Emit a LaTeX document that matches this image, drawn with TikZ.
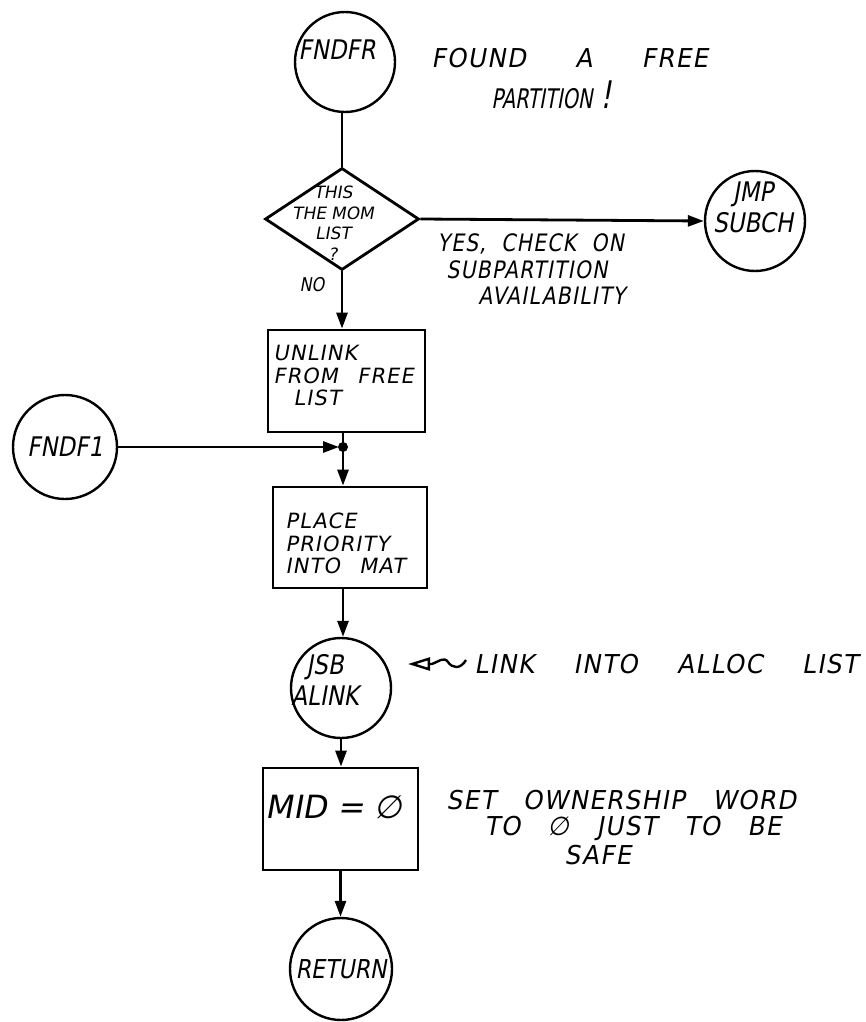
\documentclass[tikz,border=0pt]{standalone}
\usepackage{fontspec}
\newfontfamily\handC[FakeSlant=0.18,FakeStretch=0.85]{DejaVu Sans}
\newfontfamily\handN[FakeSlant=0.18,FakeStretch=0.72]{DejaVu Sans}
\newfontfamily\handD[FakeSlant=0.18]{DejaVu Sans}
\newfontfamily\handB[FakeSlant=0.18,LetterSpace=5,WordSpace=2.5]{DejaVu Sans}
\newfontfamily\handW[FakeSlant=0.18,FakeStretch=0.95,LetterSpace=5,WordSpace=3]{DejaVu Sans}
\newfontfamily\handS[FakeSlant=0.18,FakeStretch=0.85,LetterSpace=5,WordSpace=2]{DejaVu Sans}
\usetikzlibrary{shapes.geometric,arrows.meta}
\begin{document}
\begin{tikzpicture}[x=1pt,y=-1pt,
  line width=2.8pt,
  every node/.style={inner sep=0pt},
  circ/.style={draw, circle, line width=2.4pt, minimum size=#1},
  box/.style={draw, rectangle, line width=2.8pt},
  ctext/.style={font=\handC\fontsize{27}{31}\selectfont, align=center},
  dtext/.style={font=\handD\fontsize{17}{20.5}\selectfont, align=center},
  btext/.style={font=\handB\fontsize{21}{22.5}\selectfont, align=left, anchor=north west},
  cmt/.style={font=\handW\fontsize{26}{28}\selectfont, anchor=west},
  cmts/.style={font=\handS\fontsize{24}{26}\selectfont, anchor=west},
  arr/.style={-{Triangle[length=16pt,width=11pt]}},
]
\useasboundingbox (0,0) rectangle (865,1022);

% FNDFR entry
\node[circ=100pt] (fndfr) at (345,62) {};
\node[ctext] (fndfrT) at (337,50) {FNDFR};
\node[cmt] (found) at (430,58) {FOUND\hspace{22pt} A\hspace{22pt} FREE};
\node[font=\handN\fontsize{27}{30}\selectfont, anchor=west] (partition) at (490,95) {PARTITION\hspace{8pt}{\fontsize{38}{38}\selectfont !}};

% decision
\node[draw, diamond, minimum width=154pt, minimum height=102pt, line width=2.8pt] (dec) at (342,219) {};
\node[dtext] (decT) at (333,223) {THIS\\THE\hspace{5pt}MOM\\LIST\\?};

% JMP SUBCH
\node[circ=100pt] (jmp) at (755,221) {};
\node[ctext] (jmpT) at (753,207) {JMP\\SUBCH};

\node[cmts] (yes) at (436,244) {YES, CHECK ON};
\node[cmts] (subp) at (445,270) {SUBPARTITION};
\node[cmts] (avail) at (477,296) {AVAILABILITY};
\node[font=\handC\fontsize{19}{20}\selectfont] (no) at (312,285) {NO};

% UNLINK box
\node[box, minimum width=157pt, minimum height=102pt] (unlink) at (346.5,381) {};
\node[btext] (unlinkT) at (272,344) {UNLINK\\FROM FREE\\\hspace{20pt}LIST};

% FNDF1 and junction
\coordinate (j) at (343,447);
\node[circ=104pt, ctext] (fndf1) at (65,447) {FNDF1};

% PLACE box
\node[box, minimum width=154pt, minimum height=101pt] (place) at (350,537.5) {};
\node[btext] (placeT) at (284,512) {PLACE\\PRIORITY\\INTO MAT};

% JSB ALINK
\node[circ=100pt] (jsb) at (341,688) {};
\node[ctext] (jsbT) at (325,680) {JSB\\ALINK};
\coordinate (lkS) at (466,660);
\coordinate (lkE) at (408,664);
\node[cmt] (link) at (473,664) {LINK\hspace{12pt} INTO\hspace{12pt} ALLOC\hspace{12pt} LIST};

% MID box
\node[box, minimum width=155pt, minimum height=102pt] (mid) at (340.5,819) {};
\node[font=\handD\fontsize{32}{36}\selectfont] (midT) at (334,807) {MID = ∅};
\node[cmt] (set1) at (445,800) {SET OWNERSHIP WORD};
\node[cmt] (set2) at (483,828) {TO ∅ JUST TO BE};
\node[cmt] (set3) at (563,855) {SAFE};

% RETURN
\node[circ=102pt, ctext, font=\handC\fontsize{26}{28}\selectfont] (ret) at (341,969) {RETURN};

% connectors
\draw (dec.north |- fndfr.south) -- (dec.north);
\draw[arr] (dec.east) -- (jmp.west);
\draw[arr] (dec.south) -- (dec.south |- unlink.north);
\draw (j |- unlink.south) -- (j);
\draw[arr, shorten >=4pt] (fndf1.east) -- (j);
\fill (j) circle (5pt);
\draw[arr] (j) -- (j |- place.north);
\draw[arr] (j |- place.south) -- (j |- jsb.north);
\draw[arr] (jsb.south) -- (jsb.south |- mid.north);
\draw[arr] (mid.south) -- (mid.south |- ret.north);
\draw[line width=2.4pt, -{Triangle[open, length=22pt, width=13pt]}]
  (lkS) .. controls (460,670) and (452,668) .. (448,662)
        .. controls (444,656) and (438,662) .. (432,664) -- (lkE);
\end{tikzpicture}
\end{document}
